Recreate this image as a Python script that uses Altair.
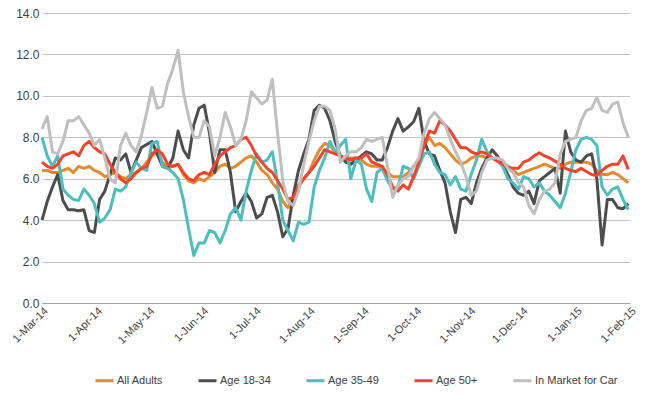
import altair as alt
import pandas as pd

START = "2014-03-01"
END = "2015-02-01"
STEP_DAYS = 3
SERIES = ["All Adults", "Age 18-34", "Age 35-49", "Age 50+", "In Market for Car"]
COLORS = ["#E68A2E", "#4D4D4D", "#4BBEC0", "#F5432B", "#BFBFBF"]
TICK_DATES = ["2014-03-01", "2014-04-01", "2014-05-01", "2014-06-01", "2014-07-01",
              "2014-08-01", "2014-09-01", "2014-10-01", "2014-11-01", "2014-12-01",
              "2015-01-01", "2015-02-01"]
Y_TICKS = [0, 2, 4, 6, 8, 10, 12, 14]

ALL_ADULTS = [
    6.4, 6.4, 6.3, 6.3, 6.4, 6.5, 6.3, 6.6, 6.5, 6.6,
    6.4, 6.3, 6.1, 6.2, 6.3, 6.1, 6.0, 6.2, 6.3, 6.5,
    6.8, 7.1, 7.3, 6.8, 6.5, 6.6, 6.7, 6.2, 5.9, 5.8,
    6.0, 5.9, 6.1, 6.3, 6.6, 6.7, 6.5, 6.6, 6.8, 7.0,
    7.1, 6.8, 6.4, 6.2, 5.8, 5.5, 4.9, 4.6, 5.1, 5.7,
    6.0, 6.3, 6.9, 7.4, 7.7, 7.6, 7.3, 7.1, 6.9, 7.0,
    7.0, 6.9, 6.7, 6.6, 6.6, 6.5, 6.3, 6.1, 6.1, 6.1,
    6.3, 6.6, 6.9, 7.6, 8.0, 7.6, 7.7, 7.5, 7.2, 6.9,
    6.7, 6.8, 7.0, 7.1, 7.1, 7.0, 7.0, 6.9, 6.8, 6.6,
    6.4, 6.2, 6.3, 6.4, 6.5, 6.6, 6.7, 6.6, 6.5, 6.5,
    6.7, 6.8, 6.8, 6.8, 6.8, 6.7, 6.4, 6.2, 6.2, 6.3,
    6.2, 6.0, 5.8,
]
AGE_18_34 = [
    4.0, 4.9, 5.6, 6.2, 4.95, 4.5, 4.5, 4.45, 4.5, 3.5,
    3.4, 5.0, 5.4, 6.2, 7.0, 6.9, 7.2, 6.3, 6.9, 7.5,
    7.65, 7.8, 7.2, 6.6, 6.5, 7.0, 8.3, 7.4, 7.0, 8.6,
    9.4, 9.55, 8.2, 6.3, 7.4, 7.4, 6.3, 4.4, 4.9, 5.3,
    4.9, 4.1, 4.3, 5.1, 5.2, 4.4, 3.2, 3.6, 5.2, 6.4,
    7.2, 7.9, 9.3, 9.55, 9.4, 8.8, 7.8, 7.1, 6.8, 6.7,
    6.9, 7.1, 7.3, 7.2, 6.9, 6.9, 7.5, 8.3, 8.9, 8.3,
    8.5, 8.75, 9.4, 7.8, 7.2, 7.1, 6.4, 5.8, 4.4, 3.4,
    5.0, 5.1, 4.8, 5.8, 6.5, 7.0, 7.4, 7.1, 6.7, 6.2,
    5.6, 5.3, 5.2, 5.4, 4.8, 5.9, 6.1, 6.3, 6.5, 5.3,
    8.3, 7.3, 6.9, 6.8, 7.1, 7.2, 6.0, 2.8, 5.0, 5.0,
    4.6, 4.55, 4.8,
]
AGE_35_49 = [
    8.0, 7.1, 6.6, 7.1, 5.5, 5.2, 5.0, 4.95, 5.5, 5.2,
    4.8, 3.9, 4.1, 4.5, 5.5, 5.4, 5.6, 6.3, 6.8, 6.5,
    6.4, 7.7, 7.8, 6.6, 6.5, 6.3, 6.0, 5.0, 3.6, 2.3,
    2.9, 2.9, 3.5, 3.4, 2.9, 3.5, 4.3, 4.6, 4.0, 5.4,
    6.4, 7.2, 6.8, 6.9, 7.3, 5.8, 4.0, 3.5, 3.0, 3.9,
    3.8, 3.9, 5.6, 6.4, 7.0, 7.8, 7.3, 7.6, 7.9, 6.0,
    6.9, 6.7, 5.5, 4.9, 6.3, 6.5, 5.9, 5.5, 5.6, 6.6,
    6.5, 6.0, 6.6, 7.2, 7.3, 6.7, 6.3, 6.2, 5.7, 6.1,
    5.5, 5.4, 6.2, 6.9, 7.9, 7.3, 7.0, 6.9, 6.6, 6.0,
    5.8, 5.5, 6.1, 6.0, 5.6, 5.8, 5.4, 5.2, 4.9, 4.6,
    5.3, 6.3, 7.4, 7.9, 8.0, 7.9, 7.6, 5.6, 5.2, 5.5,
    5.6, 5.0, 4.5,
]
AGE_50_PLUS = [
    6.8, 6.6, 6.5, 6.7, 7.1, 7.2, 7.3, 7.1, 7.6, 7.8,
    7.5, 7.3, 7.2, 6.7, 6.3, 6.0, 5.8, 6.0, 6.3, 6.5,
    6.6, 7.2, 7.4, 7.2, 6.7, 6.6, 6.7, 6.3, 6.0, 5.9,
    6.2, 6.3, 6.2, 6.7, 7.1, 7.3, 7.5, 7.6, 7.9, 8.0,
    7.6, 7.1, 6.8, 6.5, 6.3, 5.9, 5.5, 5.0, 5.1, 5.6,
    6.0, 6.3, 6.6, 7.0, 7.4, 7.3, 7.2, 7.1, 7.0, 6.9,
    7.0, 7.0, 7.2, 6.8, 6.7, 6.6, 6.2, 5.6, 5.4, 5.7,
    5.5, 6.1, 6.8, 7.6, 8.3, 8.2, 8.8, 8.6, 8.3, 7.9,
    7.5, 7.5, 7.3, 7.2, 7.3, 7.2, 7.0, 6.85, 6.7, 6.55,
    6.5, 6.5, 6.8, 6.9, 7.1, 7.25, 7.1, 7.0, 6.85, 6.7,
    6.5, 6.4, 6.35, 6.5, 6.35, 6.2, 6.15, 6.4, 6.6, 6.7,
    6.7, 7.1, 6.45,
]
IN_MARKET = [
    8.4, 9.0, 7.3, 7.2, 7.8, 8.8, 8.8, 9.0, 8.6, 8.2,
    7.6, 7.9, 7.0, 6.0, 5.8, 7.6, 8.2, 7.6, 7.3, 8.1,
    9.2, 10.4, 9.4, 9.5, 10.6, 11.3, 12.2, 10.2, 9.0, 8.0,
    8.0, 8.8, 8.5, 7.1, 8.0, 9.2, 8.5, 7.6, 7.9, 8.8,
    10.2, 9.9, 9.6, 9.8, 10.8, 8.2, 5.9, 4.9, 4.7, 5.4,
    6.7, 7.8, 8.8, 9.5, 9.5, 9.3, 8.4, 6.8, 7.1, 7.3,
    7.3, 7.5, 7.9, 7.8, 7.9, 8.0, 6.6, 5.1, 5.7, 6.0,
    6.1, 6.6, 7.0, 8.2, 8.9, 9.2, 8.9, 8.6, 7.9, 7.3,
    6.8, 6.1, 5.2, 5.4, 6.3, 6.9, 7.0, 7.0, 6.9, 6.5,
    6.3, 5.8, 5.6, 4.7, 4.3, 5.0, 5.4, 5.5, 5.8, 7.2,
    7.8, 7.9, 8.0, 8.8, 9.3, 9.4, 9.9, 9.3, 9.2, 9.6,
    9.7, 8.7, 8.0,
]

VALUES = [ALL_ADULTS, AGE_18_34, AGE_35_49, AGE_50_PLUS, IN_MARKET]

rows = []
start = pd.Timestamp(START)
for name, vals in zip(SERIES, VALUES):
    for i, v in enumerate(vals):
        d = start + pd.Timedelta(days=STEP_DAYS * i)
        rows.append({"date": d.strftime("%Y-%m-%d"), "series": name, "value": v})
df = pd.DataFrame(rows)


def ms(s):
    return int(pd.Timestamp(s, tz="UTC").value // 10**6)


tick_ms = [ms(t) for t in TICK_DATES]
LABEL_FONT = "Liberation Sans"
TEXT_COLOR = "#404040"

base = alt.Chart(df).mark_line(strokeWidth=3, strokeJoin="round").encode(
    x=alt.X(
        "date:T",
        scale=alt.Scale(type="utc", domain=[ms(START), ms(END)]),
        axis=alt.Axis(
            values=tick_ms,
            labelExpr="utcFormat(datum.value, '%-d-%b-%y')",
            labelAngle=-45,
            labelAlign="right",
            labelBaseline="middle",
            labelOffset=4,
            ticks=False,
            grid=False,
            domainColor="#A6A6A6",
            domainWidth=1,
            labelPadding=6,
            labelFontSize=11,
            labelFont=LABEL_FONT,
            labelColor=TEXT_COLOR,
            labelOverlap=False,
            title=None,
        ),
    ),
    y=alt.Y(
        "value:Q",
        scale=alt.Scale(domain=[0, 14], nice=False, zero=True),
        axis=alt.Axis(
            values=Y_TICKS,
            format=".1f",
            grid=True,
            gridColor="#C4C4C4",
            gridWidth=1,
            domain=False,
            ticks=False,
            labelPadding=3,
            labelFontSize=12,
            labelFont=LABEL_FONT,
            labelColor=TEXT_COLOR,
            title=None,
        ),
    ),
    color=alt.Color(
        "series:N",
        scale=alt.Scale(domain=SERIES, range=COLORS),
        sort=SERIES,
        legend=alt.Legend(
            title=None,
            orient="none",
            legendX=52,
            legendY=357,
            direction="horizontal",
            symbolType="stroke",
            symbolSize=324,
            symbolStrokeWidth=3,
            columnPadding=29,
            labelOffset=2,
            labelFontSize=11,
            labelFont=LABEL_FONT,
            labelColor=TEXT_COLOR,
            padding=0,
        ),
    ),
)

layers = [base.transform_filter(alt.datum.series == s) for s in SERIES]

chart = alt.layer(*layers).properties(
    width=588,
    height=290,
    autosize=alt.AutoSizeParams(type="none"),
    padding={"left": 34, "top": 5, "right": 12, "bottom": 86},
).configure_view(stroke=None)

chart.save("out.html", embed_options={"renderer": "svg", "actions": False})
